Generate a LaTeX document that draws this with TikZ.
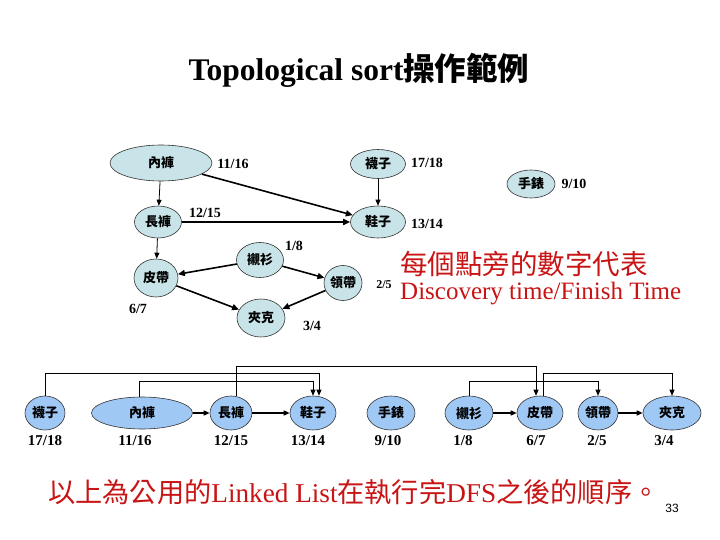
\documentclass[tikz,border=0pt]{standalone}
\usepackage{fontspec}
\setmainfont{Liberation Serif}
\newfontfamily\cjk{Noto Sans CJK TC}
\newfontfamily\sansf{Liberation Sans}
\usetikzlibrary{shapes.geometric,arrows.meta}
\definecolor{topfill}{RGB}{200,228,232}
\definecolor{botfill}{RGB}{160,200,245}
\definecolor{redtxt}{RGB}{200,20,20}
\begin{document}
\begin{tikzpicture}[x=1pt,y=-1pt,
 tn/.style={ellipse,draw=black!80,line width=0.6pt,fill=topfill,inner sep=0pt,font=\cjk\bfseries\fontsize{13}{13}\selectfont},
 bn/.style={ellipse,draw=black!80,line width=0.6pt,fill=botfill,inner sep=0pt,minimum height=34pt,font=\cjk\bfseries\fontsize{13}{13}\selectfont},
 tnum/.style={font=\bfseries\fontsize{14}{14}\selectfont,inner sep=0pt},
 bnum/.style={font=\bfseries\fontsize{15}{15}\selectfont,inner sep=0pt},
 thk/.style={line width=1.6pt,-{Triangle[length=7pt,width=6pt]}},
 thn/.style={line width=0.8pt,-{Triangle[length=6pt,width=5pt]}},
 bl/.style={line width=0.8pt,-{Triangle[length=6pt,width=5pt]}},
 bh/.style={line width=1.4pt,-{Triangle[length=6pt,width=5pt]}},
]
\useasboundingbox (0,0) rectangle (720,540);

% title
\node[font=\bfseries\fontsize{31.5}{31.5}\selectfont,inner sep=0pt] (title) at (359,70) {Topological sort{\cjk 操作範例}};

% top graph
\node[tn,minimum width=102pt,minimum height=36pt] (t1) at (161,163) {內褲};
\node[tn,minimum width=47pt,minimum height=32pt] (t2) at (158,222) {長褲};
\node[tn,minimum width=55pt,minimum height=29pt] (t3) at (378,164) {襪子};
\node[tn,minimum width=55pt,minimum height=32pt] (t4) at (378,222) {鞋子};
\node[tn,minimum width=48pt,minimum height=28pt] (t5) at (531,184) {手錶};
\node[tn,minimum width=47pt,minimum height=35pt] (t6) at (260,260) {襯衫};
\node[tn,minimum width=44pt,minimum height=38pt] (t7) at (156,278) {皮帶};
\node[tn,minimum width=38pt,minimum height=35pt] (t8) at (343,283) {領帶};
\node[tn,minimum width=48pt,minimum height=38pt] (t9) at (261,318) {夾克};

\node[tnum] (n1) at (233,164) {11/16};
\node[tnum] (n2) at (205,213) {12/15};
\node[tnum] (n3) at (427,163) {17/18};
\node[tnum] (n4) at (427,224) {13/14};
\node[tnum] (n5) at (574,184) {9/10};
\node[tnum] (n6) at (294,246) {1/8};
\node[tnum] (n7) at (138,309) {6/7};
\node[tnum,font=\bfseries\fontsize{12}{12}\selectfont] (n8) at (384,285) {2/5};
\node[tnum] (n9) at (312,326) {3/4};

\draw[thn] (t1) -- (t2);
\draw[thk] (t1) -- (t4);
\draw[thk] (t2) -- (t4);
\draw[thn] (t3) -- (t4);
\draw[thn] (t2) -- (t7);
\draw[thk] (t6) -- (t7);
\draw[thk] (t6) -- (t8);
\draw[thk] (t7) -- (t9);
\draw[thk] (t8) -- (t9);

% note
\node[font=\cjk\fontsize{27.5}{27.5}\selectfont,text=redtxt,anchor=west,inner sep=0pt] (note1) at (400,264) {每個點旁的數字代表};
\node[font=\fontsize{25}{25}\selectfont,text=redtxt,anchor=west,inner sep=0pt] (note2) at (400,294) {Discovery time/Finish Time};

% bottom row
\coordinate (h1) at (0,366);
\coordinate (h2) at (0,373);
\coordinate (h3) at (0,381);
\node[bn,minimum width=40pt] (b1) at (45,413) {襪子};
\node[bn,minimum width=101pt,minimum height=32pt] (b2) at (142,413) {內褲};
\node[bn,minimum width=42pt] (b3) at (231,413) {長褲};
\node[bn,minimum width=46pt] (b4) at (313,413) {鞋子};
\node[bn,minimum width=48pt] (b5) at (391,413) {手錶};
\node[bn,minimum width=48pt] (b6) at (469,413) {襯衫};
\node[bn,minimum width=46pt] (b7) at (540,413) {皮帶};
\node[bn,minimum width=40pt] (b8) at (598,413) {領帶};
\node[bn,minimum width=58pt] (b9) at (672,413) {夾克};

\node[bnum] (m1) at (45,441) {17/18};
\node[bnum] (m2) at (135,441) {11/16};
\node[bnum] (m3) at (231,441) {12/15};
\node[bnum] (m4) at (308,441) {13/14};
\node[bnum] (m5) at (388,441) {9/10};
\node[bnum] (m6) at (463,441) {1/8};
\node[bnum] (m7) at (536,441) {6/7};
\node[bnum] (m8) at (597,441) {2/5};
\node[bnum] (m9) at (664,441) {3/4};

\draw[bh] (b2) -- (b3);
\draw[bh] (b3) -- (b4);
\draw[bh] (b6) -- (b7);
\draw[bh] (b8) -- (b9);

\draw[bl] (b1.north) -- (b1.north |- h2) -| ([xshift=6pt]b4.north);
\draw[bl] ([xshift=-3pt]b2.north) -- ([xshift=-3pt]b2.north |- h3) -| (b4.north);
\draw[bl] ([xshift=5pt]b3.north) -- ([xshift=5pt]b3.north |- h1) -| ([xshift=-4pt]b7.north);
\draw[bl] (b6.north) -- (b6.north |- h3) -| (b8.north);
\draw[bl] ([xshift=3pt]b7.north) -- ([xshift=3pt]b7.north |- h2) -| (b9.north);

% footer
\node[text=redtxt,anchor=west,inner sep=0pt,font=\fontsize{27.2}{27.2}\selectfont] (foot) at (48,492) {{\cjk 以上為公用的}Linked List{\cjk 在執行完}DFS{\cjk 之後的順序。}};
\node[font=\sansf\fontsize{12}{12}\selectfont,inner sep=0pt] (page) at (672,508) {33};
\end{tikzpicture}
\end{document}
